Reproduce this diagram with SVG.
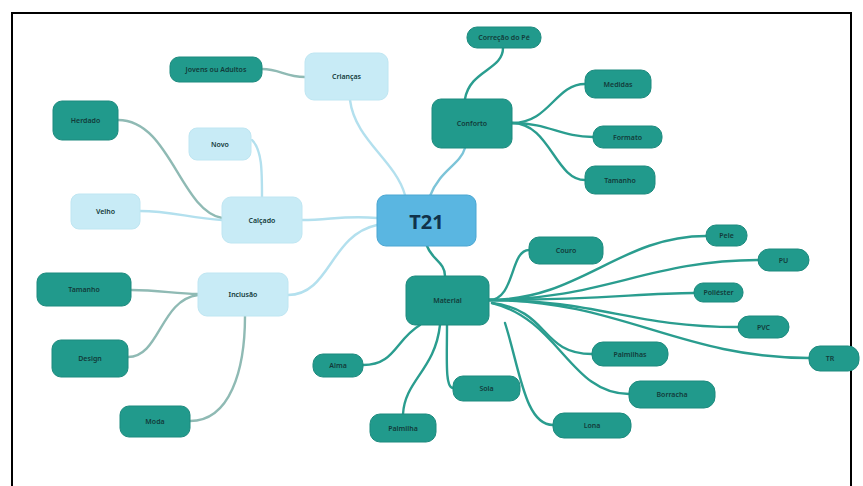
<svg xmlns="http://www.w3.org/2000/svg" width="863" height="486" viewBox="0 0 863 486">
<style>
.dk rect{fill:#219a8c;stroke:#1d8a7e;stroke-width:1}
.lt rect{fill:#c8ebf6;stroke:#bfe6f2;stroke-width:1}
.root rect{fill:#5ab6e1;stroke:#4aa6d2;stroke-width:1}
text{font-family:"Noto Sans","Liberation Sans",sans-serif;font-size:7px;font-weight:600;fill:#123a3a;text-anchor:middle;dominant-baseline:central}
.root text{font-size:20px;font-weight:bold;fill:#10324a}
.c path{fill:none;stroke-linecap:round}
.t{stroke:#2a9d8f;stroke-width:2.4}
.l{stroke:#b3e0ee;stroke-width:2.4}
.m{stroke:#7cc4d8;stroke-width:2.4}
.g{stroke:#8fbab4;stroke-width:2.4}
</style>
<rect x="0" y="0" width="863" height="486" fill="#ffffff"/>
<rect x="12" y="13" width="839" height="480" fill="none" stroke="#000" stroke-width="2"/>
<g class="c" id="connectors">
<path class="l" d="M405,195 C395,160 355,140 350,100"/>
<path class="m" d="M430,196 C440,170 460,165 465,148"/>
<path class="l" d="M377,218 C345,215 330,220 302,220"/>
<path class="l" d="M377,225 C330,235 330,295 288,295"/>
<path class="t" d="M427,246 C432,260 445,262 445,276"/>
<path class="g" d="M305,77 C285,77 280,69 262,69"/>
<path class="g" d="M222,218 C180,210 170,120 118,120"/>
<path class="l" d="M262,197 C262,170 262,150 252,140"/>
<path class="l" d="M222,220 C190,218 170,211 140,211"/>
<path class="g" d="M198,294 C175,294 160,290 131,290"/>
<path class="g" d="M198,295 C160,300 160,357 128,357"/>
<path class="g" d="M245,316 C245,370 230,421 190,421"/>
<path class="t" d="M465,99 C470,70 503,70 503,48"/>
<path class="t" d="M512,123 C550,123 555,84 585,84"/>
<path class="t" d="M512,123 C550,123 560,137 593,137"/>
<path class="t" d="M512,123 C550,123 555,180 585,180"/>
<path class="t" d="M489,300 C515,300 510,250 529,250"/>
<path class="t" d="M489,300 C580,300 620,236 706,236"/>
<path class="t" d="M489,300 C600,300 650,260 758,260"/>
<path class="t" d="M489,300 C600,300 640,293 694,293"/>
<path class="t" d="M489,300 C600,300 630,327 738,327"/>
<path class="t" d="M489,300 C620,300 680,358 809,358"/>
<path class="t" d="M492,303 C550,310 540,354 592,354"/>
<path class="t" d="M492,303 C560,320 570,394 629,394"/>
<path class="t" d="M505,323 C520,370 525,425 553,425"/>
<path class="t" d="M447,325 C447,360 445,388 453,388"/>
<path class="t" d="M440,325 C435,370 405,380 403,414"/>
<path class="t" d="M420,325 C395,340 395,365 363,365"/>
</g>
<g id="t21" class="root"><rect x="377" y="195" width="99" height="51" rx="9"/><text x="426.5" y="221">T21</text></g>
<g id="criancas" class="lt"><rect x="305" y="53" width="83" height="47" rx="9"/><text x="346.5" y="76.5">Crianças</text></g>
<g id="jovens" class="dk"><rect x="170" y="57" width="92" height="25" rx="9"/><text x="216" y="69.5">Jovens ou Adultos</text></g>
<g id="conforto" class="dk"><rect x="432" y="99" width="80" height="49" rx="9"/><text x="472" y="123.5">Conforto</text></g>
<g id="correcao" class="dk"><rect x="467" y="27" width="74" height="21" rx="10"/><text x="504" y="37.5">Correção do Pé</text></g>
<g id="medidas" class="dk"><rect x="585" y="70" width="66" height="28" rx="10"/><text x="618" y="84">Medidas</text></g>
<g id="formato" class="dk"><rect x="593" y="126" width="69" height="22" rx="10"/><text x="627.5" y="137">Formato</text></g>
<g id="tamanho1" class="dk"><rect x="585" y="166" width="70" height="28" rx="10"/><text x="620" y="180">Tamanho</text></g>
<g id="calcado" class="lt"><rect x="222" y="197" width="80" height="46" rx="9"/><text x="262" y="220">Calçado</text></g>
<g id="herdado" class="dk"><rect x="53" y="101" width="65" height="39" rx="9"/><text x="85.5" y="120.5">Herdado</text></g>
<g id="novo" class="lt"><rect x="189" y="128" width="62" height="32" rx="8"/><text x="220" y="144">Novo</text></g>
<g id="velho" class="lt"><rect x="71" y="194" width="69" height="35" rx="8"/><text x="105.5" y="211.5">Velho</text></g>
<g id="inclusao" class="lt"><rect x="198" y="273" width="90" height="43" rx="9"/><text x="243" y="294.5">Inclusão</text></g>
<g id="tamanho2" class="dk"><rect x="37" y="273" width="94" height="33" rx="9"/><text x="84" y="289.5">Tamanho</text></g>
<g id="design" class="dk"><rect x="52" y="340" width="76" height="37" rx="9"/><text x="90" y="358.5">Design</text></g>
<g id="moda" class="dk"><rect x="120" y="406" width="70" height="31" rx="9"/><text x="155" y="421.5">Moda</text></g>
<g id="material" class="dk"><rect x="406" y="276" width="83" height="49" rx="9"/><text x="447.5" y="300.5">Material</text></g>
<g id="couro" class="dk"><rect x="529" y="237" width="74" height="27" rx="10"/><text x="566" y="250.5">Couro</text></g>
<g id="pele" class="dk"><rect x="706" y="225" width="41" height="21" rx="10"/><text x="726.5" y="235.5">Pele</text></g>
<g id="pu" class="dk"><rect x="758" y="249" width="51" height="22" rx="11"/><text x="783.5" y="260">PU</text></g>
<g id="poliester" class="dk"><rect x="694" y="283" width="49" height="19" rx="9"/><text x="718.5" y="292.5">Poliéster</text></g>
<g id="pvc" class="dk"><rect x="738" y="316" width="51" height="22" rx="11"/><text x="763.5" y="327">PVC</text></g>
<g id="tr" class="dk"><rect x="809" y="346" width="50" height="25" rx="11"/><text x="830" y="358.5">TR</text></g>
<g id="palmilhas" class="dk"><rect x="592" y="342" width="76" height="24" rx="11"/><text x="630" y="354">Palmilhas</text></g>
<g id="borracha" class="dk"><rect x="629" y="381" width="86" height="27" rx="11"/><text x="672" y="394.5">Borracha</text></g>
<g id="lona" class="dk"><rect x="553" y="413" width="78" height="25" rx="11"/><text x="592" y="425.5">Lona</text></g>
<g id="sola" class="dk"><rect x="453" y="376" width="67" height="25" rx="10"/><text x="486.5" y="388.5">Sola</text></g>
<g id="palmilha" class="dk"><rect x="370" y="414" width="66" height="28" rx="10"/><text x="403" y="428">Palmilha</text></g>
<g id="alma" class="dk"><rect x="313" y="354" width="50" height="23" rx="10"/><text x="338" y="365.5">Alma</text></g>
</svg>
